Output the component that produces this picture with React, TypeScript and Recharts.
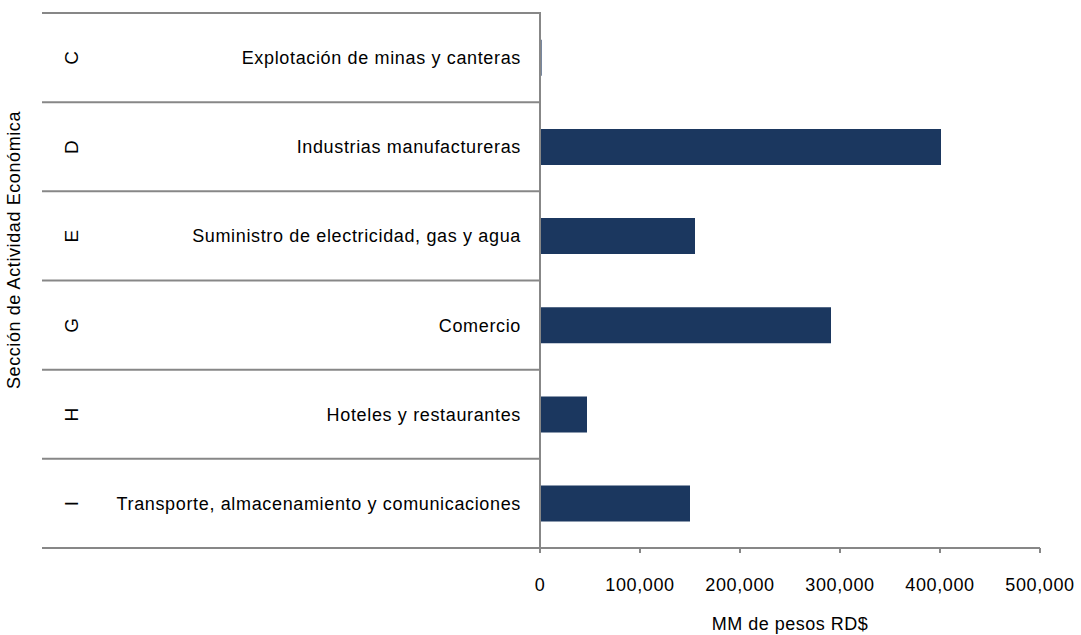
import React from 'react';
import { BarChart, Bar, XAxis, YAxis } from 'recharts';

const codes = ['C', 'D', 'E', 'G', 'H', 'I'];
const sectors = [
  'Explotación de minas y canteras',
  'Industrias manufactureras',
  'Suministro de electricidad, gas y agua',
  'Comercio',
  'Hoteles y restaurantes',
  'Transporte, almacenamiento y comunicaciones',
];
const values = [1600, 401000, 155000, 291000, 47000, 150000];
const xTicks = [0, 100000, 200000, 300000, 400000, 500000];
const xTitle = 'MM de pesos RD$';
const yTitle = 'Sección de Actividad Económica';

const data = sectors.map((s, i) => ({ code: codes[i], sector: s, value: values[i] }));

const W = 1081;
const H = 635;
const M_TOP = 13;
const M_LEFT = 42;
const M_RIGHT = 41;
const Y_W = 498;
const X_H = 87;
const PLOT_LEFT = M_LEFT + Y_W;
const PLOT_BOTTOM = H - X_H;
const BAND = (PLOT_BOTTOM - M_TOP) / data.length;
const LINE = '#878787';
const FONT = '"Liberation Sans", Arial, sans-serif';
const TXT = '#000000';

const fmt = (v: number) => v.toLocaleString('en-US');

const YTick = (props: any) => {
  const { y, payload, index } = props;
  const i = typeof index === 'number' ? index : sectors.indexOf(payload.value);
  const top = y - BAND / 2;
  const bottom = y + BAND / 2;
  return (
    <g>
      <line x1={M_LEFT} x2={PLOT_LEFT + 1} y1={top} y2={top} stroke={LINE} strokeWidth={2} />
      {i === data.length - 1 && (
        <line x1={M_LEFT} x2={PLOT_LEFT} y1={bottom} y2={bottom} stroke={LINE} strokeWidth={2} />
      )}
      <text
        x={71}
        y={y}
        transform={`rotate(-90 71 ${y})`}
        textAnchor="middle"
        dy="0.36em"
        fontFamily={FONT}
        fontSize={19}
        letterSpacing={0.5}
        fill={TXT}
      >
        {codes[i]}
      </text>
      <text
        x={PLOT_LEFT - 19}
        y={y}
        textAnchor="end"
        dy="0.36em"
        fontFamily={FONT}
        fontSize={18}
        letterSpacing={0.65}
        fill={TXT}
      >
        {payload.value}
      </text>
    </g>
  );
};

const XTick = (props: any) => {
  const { x, payload } = props;
  return (
    <text
      x={x}
      y={591}
      textAnchor="middle"
      fontFamily={FONT}
      fontSize={18}
      letterSpacing={0.6}
      fill={TXT}
    >
      {fmt(payload.value)}
    </text>
  );
};

const XTitle = () => (
  <text
    x={PLOT_LEFT + (W - M_RIGHT - PLOT_LEFT) / 2}
    y={630}
    textAnchor="middle"
    fontFamily={FONT}
    fontSize={18}
    letterSpacing={0.5}
    fill={TXT}
  >
    {xTitle}
  </text>
);

const YTitle = () => (
  <text
    x={14}
    y={250}
    transform="rotate(-90 14 250)"
    textAnchor="middle"
    dy="0.36em"
    fontFamily={FONT}
    fontSize={18}
    letterSpacing={0.6}
    fill={TXT}
  >
    {yTitle}
  </text>
);

export default function App() {
  return (
    <div style={{ position: 'absolute', left: 0, top: 0, width: W, height: H, background: '#ffffff' }}>
      <BarChart
        width={W}
        height={H}
        data={data}
        layout="vertical"
        margin={{ top: M_TOP, right: M_RIGHT, bottom: 0, left: M_LEFT }}
        barCategoryGap="30%"
      >
        <XAxis
          type="number"
          domain={[0, 500000]}
          ticks={xTicks}
          height={X_H}
          axisLine={{ stroke: LINE, strokeWidth: 2 }}
          tickLine={{ stroke: LINE, strokeWidth: 2 }}
          tickSize={5}
          tick={<XTick />}
          interval={0}
          allowDataOverflow
          label={<XTitle />}
        />
        <YAxis
          type="category"
          dataKey="sector"
          width={Y_W}
          axisLine={{ stroke: LINE, strokeWidth: 2 }}
          tickLine={false}
          tick={<YTick />}
          interval={0}
          label={<YTitle />}
        />
        <Bar dataKey="value" fill="#1b375f" isAnimationActive={false} />
      </BarChart>
    </div>
  );
}
